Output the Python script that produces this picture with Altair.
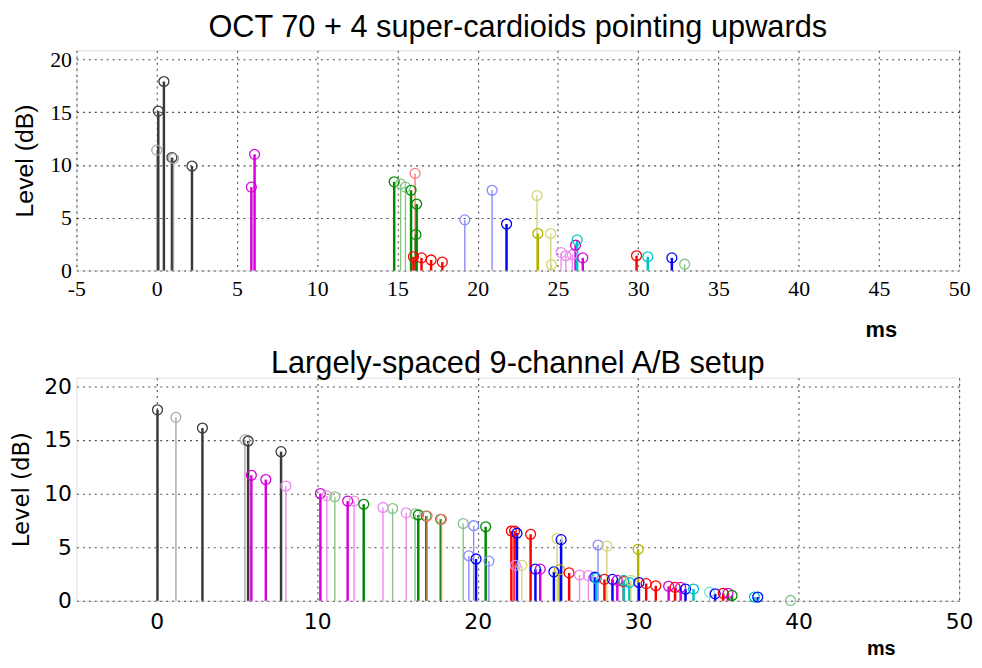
import altair as alt
import pandas as pd

# ---------------- data ----------------
# top panel: OCT 70 + 4 super-cardioids
top_ms = [0.0, 0.1, 0.45, 0.95, 1.05, 2.2, 5.9, 6.1,
          14.8, 15.2, 15.5, 15.85, 16.1, 16.2, 16.15, 16.0, 16.5, 17.1, 17.8,
          19.2, 20.9, 21.8,
          23.7, 23.75, 24.55, 24.6,
          25.2, 25.5, 25.9, 26.1, 26.2, 26.55,
          29.9, 30.6, 32.1, 32.9]
top_db = [11.4, 15.1, 17.9, 10.7, 10.6, 9.9, 7.9, 11.0,
          8.4, 8.2, 7.9, 7.6, 9.2, 6.3, 3.4, 1.3, 1.2, 1.0, 0.8,
          4.8, 7.6, 4.4,
          7.1, 3.5, 3.5, 0.55,
          1.7, 1.4, 1.5, 2.4, 2.9, 1.2,
          1.4, 1.3, 1.2, 0.6]
top_col = ["k2", "k", "k", "k", "k2", "k", "m", "m",
           "g", "g2", "g2", "g", "r2", "g", "g", "r", "r", "r", "r",
           "b2", "b2", "b",
           "y2", "y", "y2", "y2",
           "m2", "m2", "m2", "m", "c", "m",
           "r", "c", "b", "g2"]

# bottom panel: largely-spaced 9-channel A/B
bot_ms = [0.05, 1.2, 2.85, 5.5, 5.7, 5.9, 6.8, 7.75, 8.05,
          10.2, 10.6, 11.1, 11.9, 12.3, 12.9, 14.1, 14.7, 15.55, 16.1, 16.3,
          16.8, 16.85, 17.7, 17.75, 19.1, 19.45, 19.75, 19.9, 20.5, 20.7,
          22.1, 22.3, 22.45, 22.35, 22.75, 23.3, 23.6, 23.9, 24.75, 24.95,
          25.1, 25.2, 25.7, 26.35, 26.9, 27.3, 27.4, 27.5, 27.9, 28.05,
          28.4, 28.7, 29.1, 29.1, 29.45, 29.55, 30.0, 30.05, 30.5, 31.1,
          31.9, 32.3, 32.65, 32.95, 33.45, 34.45, 34.8, 35.3, 35.6, 35.85,
          37.25, 37.45, 39.5]
bot_db = [17.8, 17.1, 16.1, 15.0, 14.9, 11.7, 11.3, 13.9, 10.7,
          10.0, 9.8, 9.7, 9.3, 9.3, 9.0, 8.7, 8.6, 8.2, 8.1, 8.0,
          7.9, 7.9, 7.6, 7.6, 7.2, 4.2, 7.0, 3.9, 6.9, 3.7,
          6.5, 6.5, 6.3, 3.3, 3.3, 6.2, 2.95, 2.95, 2.7, 5.8,
          2.9, 5.7, 2.6, 2.4, 2.35, 2.2, 2.1, 5.2, 2.0, 5.1,
          2.0, 1.9, 1.8, 1.9, 1.7, 1.9, 4.8, 1.7, 1.6, 1.4,
          1.35, 1.25, 1.25, 1.1, 1.1, 0.8, 0.65, 0.7, 0.7, 0.5,
          0.35, 0.35, 0.03]
bot_col = ["k", "k2", "k", "k2", "k", "m", "m", "k", "m2",
           "m", "m2", "g2", "m", "m2", "g", "m2", "g2", "m2", "g2", "g",
           "g", "r2", "g", "r2", "g2", "b2", "b2", "b", "g", "b2",
           "r", "r", "b", "m2", "y2", "r", "b", "m", "b", "y2",
           "y", "b", "r", "m2", "m2", "b", "c", "b2", "r", "y2",
           "b", "m", "r", "c", "c", "y2", "y", "b", "r", "r",
           "m", "r", "m", "b", "c", "c2", "b", "r", "m", "g",
           "c", "b", "g2"]

color_keys = ["k", "k2", "m", "m2", "g", "g2", "r", "r2",
              "b", "b2", "y", "y2", "c", "c2"]
color_vals = ["#3a3a3a", "#a8a8a8", "#d800d8", "#ee88ee", "#008a00", "#88c488",
              "#ff0000", "#ff7a7a", "#0000ff", "#8a8aff", "#b4b400", "#d4d47a",
              "#00c4c4", "#84e0e0"]


def make_df(ms, db, col):
    df = pd.DataFrame({"ms": ms, "db": db, "col": col})
    df["shade"] = ["light" if c.endswith("2") else "dark" for c in col]
    return df


def panel(df, title, lab_font, lab_size, x_vals, y_title_font, y_title_size,
          height, ydom, label_pad, ms_y, ms_size, title_offset, y_title_pad):
    xaxis = alt.Axis(values=x_vals, title="ms", labelFont=lab_font,
                     labelFontSize=lab_size, labelColor="black",
                     labelExpr="'' + datum.value",
                     labelPadding=label_pad, ticks=False, domain=False,
                     grid=True, gridColor="#222222", gridDash=[2, 4],
                     gridWidth=1.1, gridOpacity=0.8,
                     titleFont="Liberation Sans", titleFontWeight="bold",
                     titleFontSize=ms_size, titleColor="black",
                     titleX=811, titleY=ms_y, titleAlign="center",
                     titleBaseline="middle", labelFlush=False)
    yaxis = alt.Axis(values=[0, 5, 10, 15, 20], title="Level (dB)",
                     labelFont=lab_font, labelFontSize=lab_size,
                     labelColor="black", labelPadding=5, ticks=False,
                     domain=False, grid=True, gridColor="#222222",
                     gridDash=[2, 4], gridWidth=1.1, gridOpacity=0.8,
                     titleFont=y_title_font, titleFontSize=y_title_size,
                     titleFontWeight="normal", titleColor="black",
                     titlePadding=y_title_pad, labelFlush=False)
    x = alt.X("ms:Q", scale=alt.Scale(domain=[-5, 50], nice=False, zero=False),
              axis=xaxis)
    y = alt.Y("db:Q", scale=alt.Scale(domain=ydom, nice=False), axis=yaxis)
    color = alt.Color("col:N", scale=alt.Scale(domain=color_keys, range=color_vals),
                      legend=None)
    sw = alt.StrokeWidth("shade:N",
                         scale=alt.Scale(domain=["dark", "light"], range=[2.5, 1.4]),
                         legend=None)
    base = alt.Chart(df)
    stems = base.mark_rule().encode(x=x, y=y, y2=alt.datum(0), color=color,
                                    strokeWidth=sw)
    marks = base.mark_point(shape="circle", filled=False, size=100,
                            strokeWidth=1.3, opacity=1).encode(
        x=x, y=y, color=color)
    return alt.layer(stems, marks).properties(
        width=890, height=height,
        title=alt.TitleParams(title, font="Liberation Sans", fontSize=31,
                              fontWeight="normal", color="black",
                              anchor="middle", offset=title_offset))


top = panel(make_df(top_ms, top_db, top_col),
            "OCT 70 + 4 super-cardioids pointing upwards",
            "Liberation Serif", 22, list(range(-5, 51, 5)),
            "Liberation Sans", 25, 222, [0, 20.85], 8, 60, 22, 5, 12)
bottom = panel(make_df(bot_ms, bot_db, bot_col),
               "Largely-spaced 9-channel A/B setup",
               "DejaVu Sans", 22, [0, 10, 20, 30, 40, 50],
               "DejaVu Sans", 23, 225, [0, 20.8], 11, 48, 20, -5, 10)

chart = alt.vconcat(top, bottom, spacing=6).properties(
    padding={"left": 2, "top": 0, "right": 0, "bottom": 0}
).configure_view(stroke="black", strokeWidth=1.5).configure(background="white")

chart.save("out.html", embed_options={"renderer": "svg", "actions": False})
